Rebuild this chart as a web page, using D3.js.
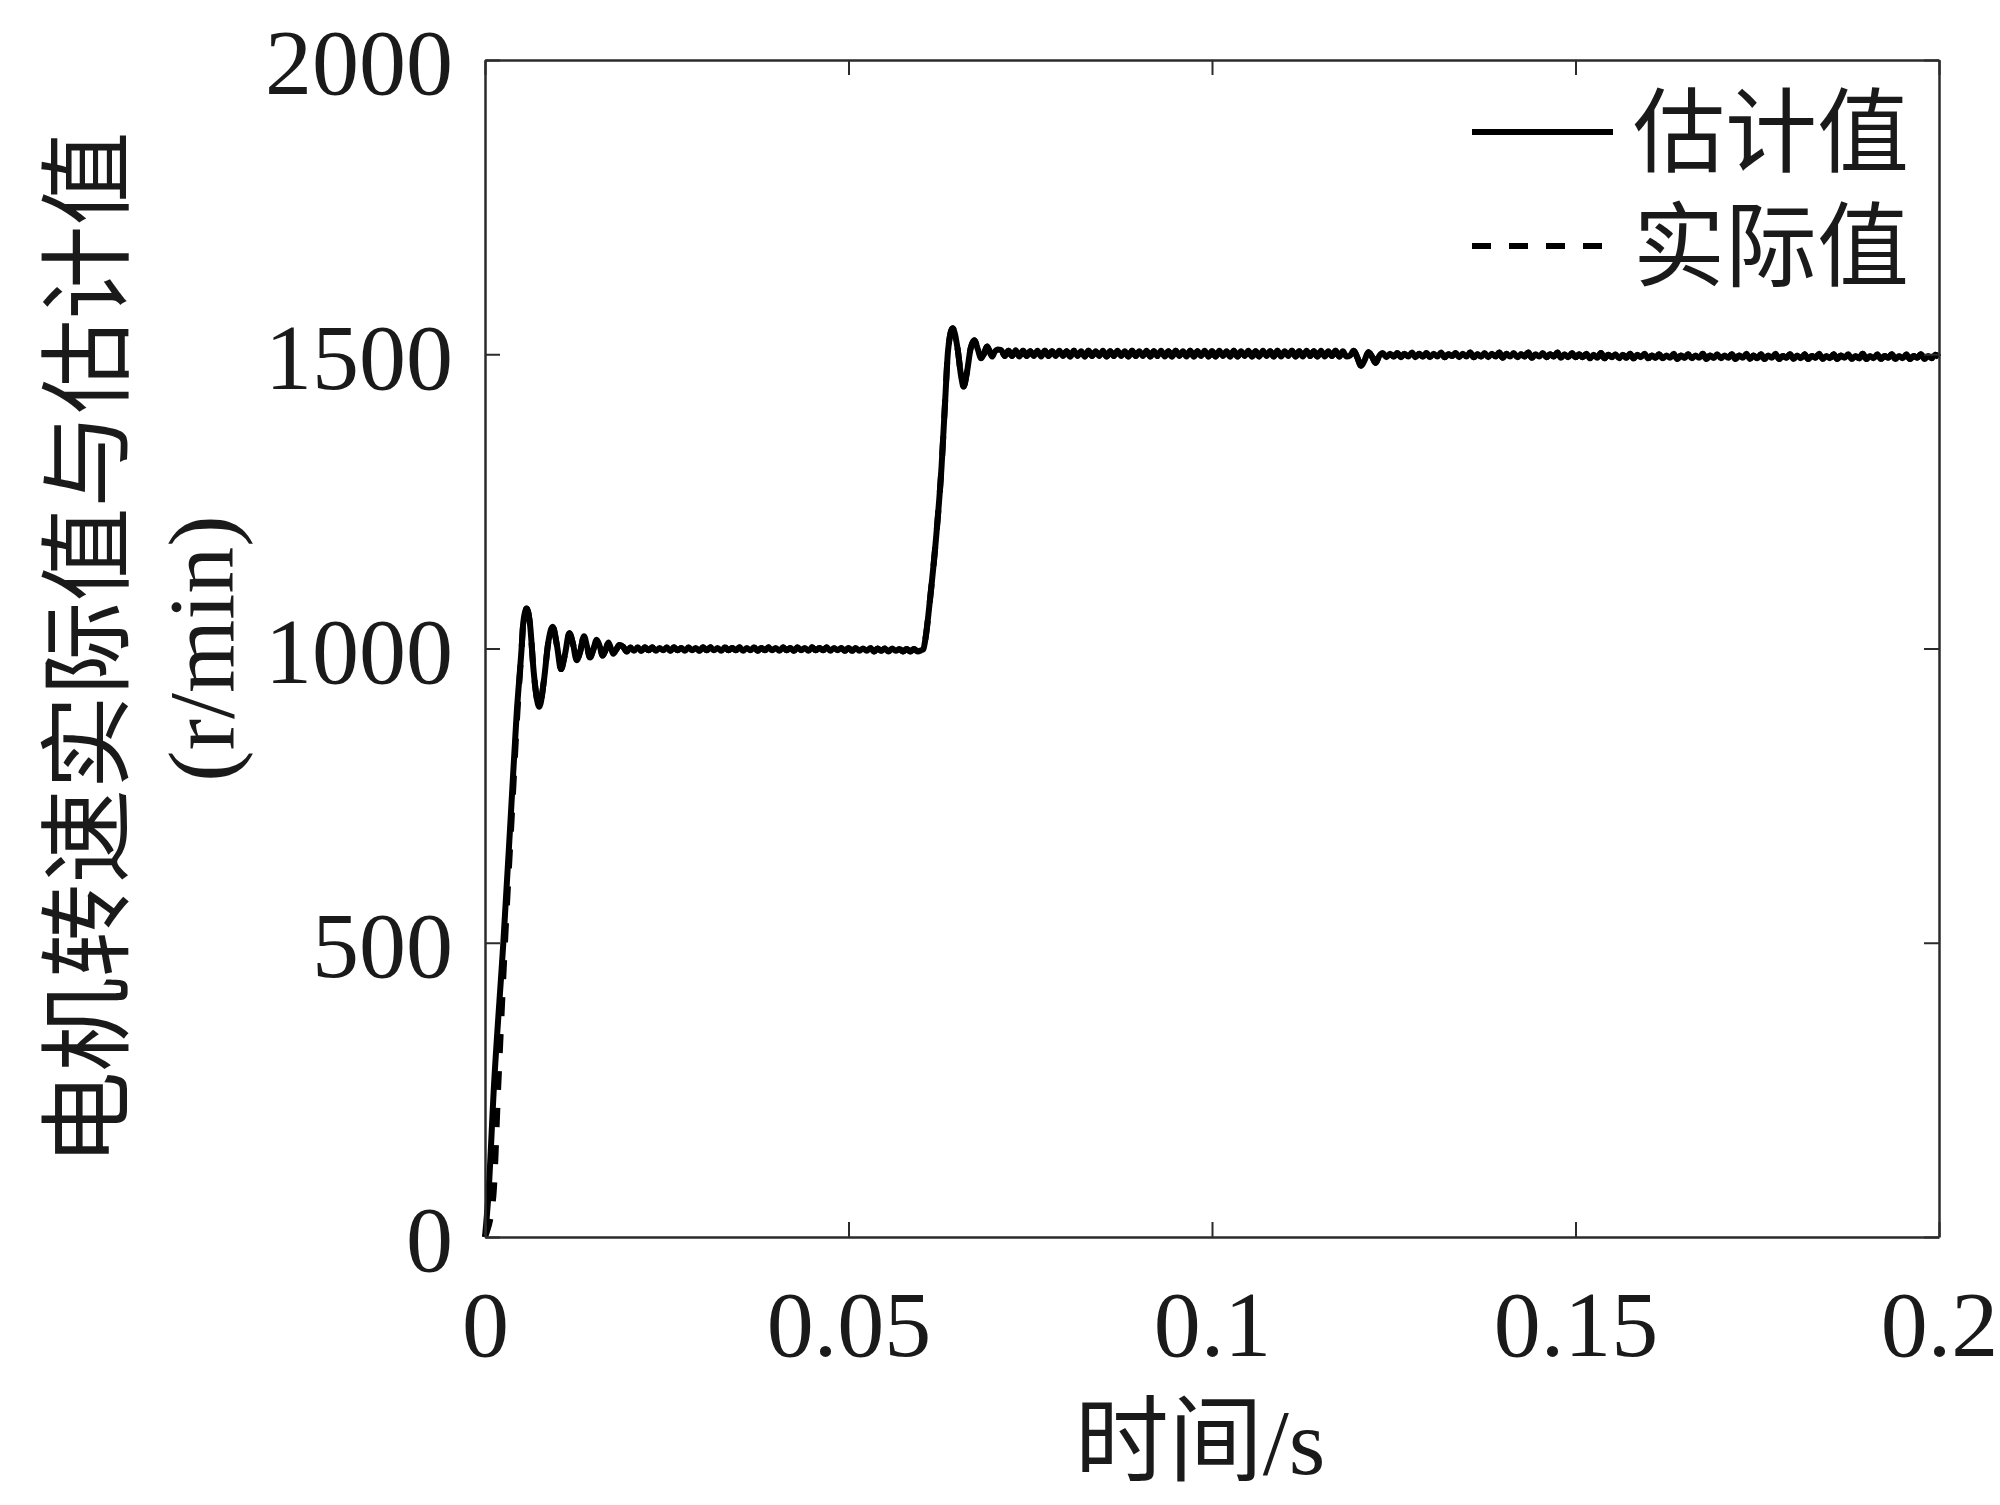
<!DOCTYPE html>
<html>
<head>
<meta charset="utf-8">
<script src="https://cdn.jsdelivr.net/npm/d3@7"></script>
<style>
  body { margin: 0; background: #fff; }
  text { font-family: "Liberation Serif", "Noto Sans CJK SC", serif; fill: #1a1a1a; }
</style>
</head>
<body>
<script>
// ticks
var xTicks = [0, 0.05, 0.1, 0.15, 0.2];
var xTickLabels = ["0", "0.05", "0.1", "0.15", "0.2"];
var yTicks = [0, 500, 1000, 1500, 2000];
var yTickLabels = ["0", "500", "1000", "1500", "2000"];

// estimated speed, start-up transient (time s, speed r/min)
var estStartT = [0, 0.00045, 0.00124, 0.00252, 0.00353, 0.00436, 0.00505, 0.00527, 0.00574, 0.0062, 0.0067, 0.00747,
  0.0081, 0.0087, 0.00931, 0.0099, 0.01045, 0.0110, 0.0116, 0.0121, 0.01261, 0.0131, 0.01362, 0.0140, 0.01444,
  0.0149, 0.01536, 0.0158, 0.01619, 0.0166, 0.01697, 0.0173, 0.01765, 0.0181, 0.01848];
var estStartV = [0, 68, 258, 500, 712, 890, 1003, 1045, 1068, 1040, 960, 901,
  945, 1010, 1037, 1005, 965, 990, 1026, 1008, 980, 995, 1021, 1005, 985,
  998, 1015, 1003, 988, 998, 1010, 1001, 991, 999, 1006];

// actual speed, start-up (lags slightly, then merges with estimate)
var actStartT = [0, 0.00015, 0.00114, 0.00183, 0.00275, 0.00367, 0.0045];
var actStartV = [0, 5, 68, 258, 500, 712, 900];

// 1000 r/min plateau, sampled every 0.5 ms from 0.019 s
var lowStart = 0.019, lowStep = 0.0005;
var lowPlateau = [
  1003, 995, 1002, 996, 1002, 996, 1002, 997, 1002, 996, 1001, 997, 1002, 996, 1002, 997, 1001, 996, 1002, 997,
  1001, 996, 1002, 997, 1002, 997, 1001, 996, 1002, 997, 1001, 997, 1002, 996, 1001, 997, 1002, 996, 1001, 997,
  1002, 997, 1001, 996, 1002, 997, 1001, 996, 1002, 997, 1001, 996, 1002, 997, 1001, 997, 1002, 996, 1001, 997,
  1001, 996, 1001, 996, 1001, 996, 1000, 996, 1001, 995, 1000, 996, 1000, 995, 1000, 996, 999, 995, 999, 995,
  999, 995, 997];

// step to 1500 r/min
var stepT = [0.0603, 0.0606, 0.0612, 0.0621, 0.0628, 0.0633, 0.0637, 0.06433, 0.0650, 0.0655, 0.06583, 0.0663,
  0.0668, 0.0673, 0.0678, 0.06824, 0.0686, 0.06906, 0.0694, 0.06975, 0.0701, 0.0705];
var stepV = [999, 1018, 1082, 1196, 1309, 1422, 1507, 1544, 1510, 1462, 1445, 1470,
  1510, 1524, 1508, 1493, 1500, 1513, 1505, 1496, 1504, 1508];

// 1500 r/min plateau, sampled every 0.5 ms from 0.071 s
var highStart = 0.071, highStep = 0.0005;
var highPlateau = [
  1507, 1497, 1506, 1497, 1507, 1496, 1506, 1497, 1505, 1497, 1506, 1496, 1506, 1497, 1505, 1497, 1506, 1497, 1505, 1496,
  1506, 1497, 1505, 1496, 1506, 1497, 1505, 1497, 1506, 1496, 1505, 1497, 1506, 1497, 1505, 1496, 1506, 1497, 1505, 1497,
  1506, 1496, 1505, 1497, 1506, 1496, 1505, 1496, 1506, 1497, 1505, 1496, 1506, 1496, 1505, 1497, 1506, 1496, 1505, 1496,
  1506, 1497, 1505, 1496, 1506, 1496, 1505, 1497, 1506, 1496, 1505, 1496, 1506, 1497, 1505, 1496, 1506, 1496, 1505, 1497,
  1506, 1496, 1505, 1496, 1506, 1497, 1505, 1496, 1506, 1496, 1505, 1497, 1506, 1496, 1505, 1496, 1498, 1506, 1494, 1480,
  1490, 1504, 1496, 1485, 1497, 1502, 1495, 1501, 1496, 1502, 1495, 1501, 1496, 1503, 1495, 1501, 1496, 1502, 1495, 1501,
  1496, 1503, 1495, 1500, 1497, 1502, 1495, 1501, 1496, 1503, 1495, 1500, 1496, 1502, 1495, 1501, 1496, 1503, 1494, 1501,
  1496, 1502, 1495, 1500, 1496, 1503, 1494, 1500, 1496, 1502, 1495, 1500, 1496, 1503, 1494, 1500, 1495, 1502, 1495, 1500,
  1495, 1501, 1493, 1499, 1494, 1502, 1493, 1499, 1495, 1500, 1493, 1499, 1494, 1501, 1493, 1499, 1495, 1501, 1493, 1498,
  1494, 1500, 1493, 1498, 1494, 1501, 1492, 1498, 1494, 1500, 1493, 1498, 1494, 1501, 1492, 1498, 1494, 1500, 1493, 1498,
  1494, 1500, 1492, 1498, 1494, 1501, 1492, 1498, 1493, 1500, 1492, 1498, 1494, 1501, 1492, 1497, 1494, 1500, 1492, 1498,
  1493, 1500, 1492, 1497, 1494, 1501, 1492, 1497, 1493, 1500, 1492, 1498, 1494, 1500, 1492, 1497, 1493, 1501, 1492, 1497,
  1493, 1500, 1492, 1497, 1494, 1500, 1492, 1497, 1493, 1500, 1492, 1497, 1494, 1500, 1492, 1497, 1493, 1499, 1495];

var legendNames = ["估计值", "实际值"];

// layout
var width = 2000, height = 1505;
var plotL = 485, plotR = 1939, plotT = 60, plotB = 1237;
var fs = 94;
var lw = 6;

var svg = d3.select("body").append("svg").attr("width", width).attr("height", height);

var x = d3.scaleLinear().domain([0, 0.2]).range([plotL, plotR]);
var y = d3.scaleLinear().domain([0, 2000]).range([plotB, plotT]);

// build point lists
function pairs(ts, vs) {
  return ts.map(function (t, i) { return [t, vs[i]]; });
}
function sampled(start, step, vs) {
  return vs.map(function (v, i) { return [start + i * step, v]; });
}
var tail = sampled(lowStart, lowStep, lowPlateau)
  .concat(pairs(stepT, stepV))
  .concat(sampled(highStart, highStep, highPlateau));
var est = pairs(estStartT, estStartV).concat(tail);
var act = pairs(actStartT, actStartV)
  .concat(pairs(estStartT, estStartV).filter(function (d) { return d[0] > 0.0046; }))
  .concat(tail);

var line = d3.line()
  .x(function (d) { return x(d[0]); })
  .y(function (d) { return y(d[1]); })
  .curve(d3.curveMonotoneX);

var plot = svg.append("g");
plot.append("path").datum(est)
  .attr("d", line).attr("fill", "none").attr("stroke", "#000")
  .attr("stroke-width", lw).attr("stroke-linejoin", "round");
plot.append("path").datum(act)
  .attr("d", line).attr("fill", "none").attr("stroke", "#000")
  .attr("stroke-width", lw).attr("stroke-dasharray", "19,18");

// axes (box with inward ticks)
var axisColor = "#2b2b2b";
function styleAxis(g) {
  g.select(".domain").attr("stroke", axisColor).attr("stroke-width", 2.5);
  g.selectAll(".tick line").attr("stroke", axisColor).attr("stroke-width", 2);
  g.selectAll("text").attr("font-size", fs).attr("fill", "#1a1a1a")
    .attr("font-family", "Liberation Serif");
}
svg.append("g").attr("transform", "translate(0," + plotB + ")")
  .call(d3.axisBottom(x).tickValues(xTicks).tickSize(-15).tickSizeOuter(0).tickPadding(52)
    .tickFormat(function (d, i) { return xTickLabels[i]; }))
  .call(styleAxis);
svg.append("g").attr("transform", "translate(" + plotL + ",0)")
  .call(d3.axisLeft(y).tickValues(yTicks).tickSize(-15).tickSizeOuter(0).tickPadding(32)
    .tickFormat(function (d, i) { return yTickLabels[i]; }))
  .call(styleAxis)
  .selectAll("text").attr("dy", "0.36em");
svg.append("g").attr("transform", "translate(0," + plotT + ")")
  .call(d3.axisTop(x).tickValues(xTicks).tickSize(-15).tickSizeOuter(0).tickFormat(""))
  .call(styleAxis);
svg.append("g").attr("transform", "translate(" + plotR + ",0)")
  .call(d3.axisRight(y).tickValues(yTicks).tickSize(-15).tickSizeOuter(0).tickFormat(""))
  .call(styleAxis);

// axis titles
svg.append("text").attr("x", (plotL + plotR) / 2 - 12).attr("y", 1474)
  .attr("text-anchor", "middle").attr("font-size", fs).text("时间/s");
var yt = svg.append("text").attr("transform", "translate(121," + (plotT + plotB) / 2 + ") rotate(-90)")
  .attr("text-anchor", "middle").attr("font-size", fs);
yt.append("tspan").attr("x", 0).attr("y", 0).text("电机转速实际值与估计值");
yt.append("tspan").attr("x", 0).attr("y", 112).text("(r/min)");

// legend
var legend = svg.append("g");
legendNames.forEach(function (name, i) {
  var ly = 132 + i * 114;
  legend.append("line").attr("x1", 1472).attr("x2", 1613).attr("y1", ly).attr("y2", ly)
    .attr("stroke", "#000").attr("stroke-width", lw)
    .attr("stroke-dasharray", i === 1 ? "19,18" : null);
  legend.append("text").attr("x", 1633).attr("y", ly).attr("dy", "0.36em")
    .attr("font-size", 92).text(name);
});
</script>
</body>
</html>
